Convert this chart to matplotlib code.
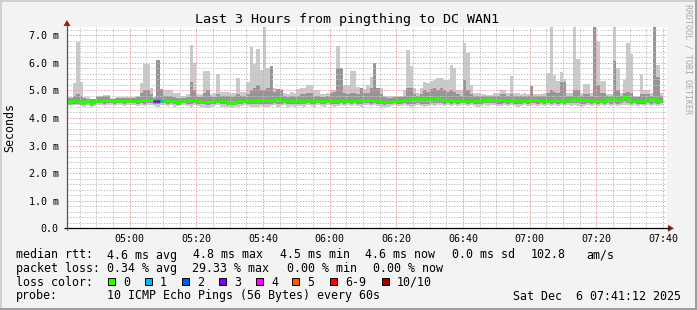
import numpy as np
import matplotlib
matplotlib.use("Agg")
import matplotlib.pyplot as plt
from matplotlib.patches import Rectangle, Polygon

# ---------------- data ----------------
start_label = "04:41"          # first 1-minute bin
view_start = "04:41:12"
view_end = "07:41:12"

rtt_max = [
    4.76, 4.76, 5.28, 6.74, 5.30, 4.76, 4.75, 4.65, 4.70, 4.80,
    4.80, 4.84, 4.84, 4.73, 4.73, 4.76, 4.76, 4.76, 4.76, 4.76,
    4.76, 4.78, 5.28, 5.94, 5.94, 5.09, 4.75, 6.09, 5.05, 5.00,
    5.00, 5.00, 4.90, 4.90, 4.80, 4.80, 4.85, 6.65, 5.99, 4.85,
    4.85, 5.69, 5.69, 4.85, 4.90, 5.60, 4.95, 4.95, 4.95, 4.90,
    4.90, 5.45, 4.95, 4.95, 5.30, 6.56, 5.95, 6.50, 5.74, 7.30,
    5.82, 5.87, 5.09, 5.05, 5.05, 4.90, 4.85, 4.95, 4.90, 5.05,
    5.10, 5.10, 5.20, 5.20, 5.00, 5.00, 4.85, 4.85, 4.90, 5.00,
    5.00, 6.62, 5.82, 5.20, 5.20, 5.70, 5.70, 5.13, 5.10, 5.05,
    5.20, 5.50, 6.00, 5.10, 5.10, 4.80, 4.80, 4.78, 4.80, 4.80,
    4.80, 5.00, 6.47, 5.87, 5.10, 4.90, 5.10, 5.30, 5.28, 5.35,
    5.38, 5.45, 5.45, 5.38, 5.38, 5.90, 5.80, 5.00, 5.00, 6.72,
    6.36, 5.20, 4.90, 4.90, 4.88, 4.85, 4.84, 4.84, 4.90, 4.90,
    5.00, 5.00, 4.90, 5.53, 4.90, 4.90, 4.85, 4.90, 4.85, 5.14,
    4.85, 4.85, 4.85, 4.90, 5.63, 7.30, 5.56, 5.32, 5.65, 5.40,
    4.90, 4.90, 7.30, 6.14, 4.90, 5.24, 5.24, 4.90, 7.30, 6.78,
    5.32, 5.32, 4.85, 4.85, 7.30, 5.82, 4.90, 5.38, 6.72, 6.30,
    4.80, 4.80, 5.60, 5.00, 5.00, 4.90, 7.30, 5.90, 4.90,
]

rtt_upper = [
    4.72, 4.72, 4.80, 4.85, 4.80, 4.72, 4.70, 4.68, 4.70, 4.75,
    4.75, 4.78, 4.78, 4.70, 4.70, 4.72, 4.72, 4.72, 4.72, 4.72,
    4.72, 4.74, 4.90, 5.00, 5.00, 4.85, 4.72, 6.09, 5.05, 4.80,
    4.80, 4.78, 4.75, 4.72, 4.72, 4.72, 4.75, 5.30, 5.00, 4.75,
    4.75, 4.90, 5.00, 4.75, 4.75, 4.85, 4.80, 4.78, 4.78, 4.75,
    4.80, 4.85, 4.80, 4.80, 4.85, 5.00, 5.10, 5.20, 5.00, 5.00,
    5.10, 5.87, 4.95, 5.05, 5.00, 4.80, 4.75, 4.80, 4.78, 4.80,
    4.85, 4.85, 4.90, 4.90, 4.80, 4.80, 4.75, 4.75, 4.78, 4.90,
    4.95, 5.80, 5.82, 4.90, 4.85, 4.90, 4.90, 4.85, 5.09, 4.90,
    4.90, 5.10, 5.99, 5.10, 4.85, 4.75, 4.72, 4.72, 4.75, 4.75,
    4.75, 4.80, 5.10, 5.10, 4.85, 4.78, 4.85, 5.00, 4.95, 5.05,
    5.10, 5.00, 5.10, 5.00, 4.95, 5.00, 4.95, 4.85, 4.80, 5.38,
    5.00, 4.85, 4.80, 4.78, 4.80, 4.80, 4.78, 4.78, 4.80, 4.80,
    4.85, 4.85, 4.80, 4.85, 4.80, 4.80, 4.78, 4.80, 4.78, 5.14,
    4.78, 4.78, 4.78, 4.80, 4.90, 5.00, 4.95, 4.90, 5.30, 5.30,
    4.80, 4.80, 5.00, 5.00, 4.80, 4.85, 4.85, 4.80, 7.30, 5.20,
    4.90, 4.90, 4.78, 4.80, 6.05, 5.00, 4.80, 4.90, 4.95, 4.90,
    4.75, 4.75, 4.85, 4.85, 4.85, 4.80, 7.30, 5.50, 4.80,
]

rtt_lower = [
    4.52, 4.50, 4.52, 4.52, 4.50, 4.50, 4.53, 4.48, 4.52, 4.53,
    4.53, 4.52, 4.53, 4.53, 4.52, 4.53, 4.53, 4.52, 4.53, 4.53,
    4.53, 4.52, 4.53, 4.52, 4.53, 4.53, 4.52, 4.50, 4.53, 4.53,
    4.52, 4.53, 4.50, 4.48, 4.53, 4.53, 4.52, 4.50, 4.53, 4.52,
    4.50, 4.50, 4.48, 4.50, 4.52, 4.53, 4.50, 4.50, 4.48, 4.47,
    4.48, 4.50, 4.52, 4.53, 4.52, 4.50, 4.50, 4.50, 4.52, 4.52,
    4.52, 4.52, 4.53, 4.52, 4.52, 4.53, 4.50, 4.52, 4.50, 4.52,
    4.52, 4.50, 4.53, 4.52, 4.50, 4.53, 4.52, 4.50, 4.53, 4.52,
    4.50, 4.52, 4.53, 4.52, 4.53, 4.52, 4.53, 4.52, 4.52, 4.53,
    4.53, 4.52, 4.53, 4.52, 4.50, 4.48, 4.50, 4.50, 4.53, 4.52,
    4.52, 4.53, 4.52, 4.50, 4.52, 4.53, 4.52, 4.52, 4.52, 4.53,
    4.53, 4.55, 4.53, 4.52, 4.53, 4.52, 4.53, 4.52, 4.53, 4.53,
    4.52, 4.53, 4.52, 4.50, 4.52, 4.53, 4.53, 4.53, 4.53, 4.52,
    4.52, 4.53, 4.50, 4.53, 4.52, 4.50, 4.52, 4.53, 4.52, 4.53,
    4.53, 4.52, 4.53, 4.52, 4.53, 4.52, 4.53, 4.52, 4.53, 4.52,
    4.53, 4.53, 4.53, 4.53, 4.52, 4.52, 4.53, 4.52, 4.53, 4.52,
    4.53, 4.52, 4.53, 4.52, 4.53, 4.52, 4.53, 4.58, 4.53, 4.52,
    4.53, 4.52, 4.52, 4.52, 4.53, 4.52, 4.53, 4.52, 4.53,
]

rtt_min = [
    4.45, 4.42, 4.45, 4.45, 4.42, 4.40, 4.45, 4.38, 4.42, 4.45,
    4.45, 4.42, 4.45, 4.45, 4.42, 4.45, 4.45, 4.42, 4.45, 4.45,
    4.45, 4.42, 4.45, 4.42, 4.45, 4.45, 4.42, 4.40, 4.45, 4.45,
    4.42, 4.45, 4.40, 4.42, 4.45, 4.45, 4.42, 4.40, 4.45, 4.42,
    4.40, 4.38, 4.35, 4.38, 4.42, 4.45, 4.40, 4.38, 4.40, 4.35,
    4.38, 4.40, 4.42, 4.45, 4.42, 4.40, 4.38, 4.40, 4.42, 4.40,
    4.40, 4.42, 4.45, 4.40, 4.42, 4.45, 4.40, 4.42, 4.38, 4.42,
    4.42, 4.40, 4.45, 4.42, 4.40, 4.45, 4.42, 4.40, 4.45, 4.42,
    4.40, 4.42, 4.45, 4.42, 4.45, 4.42, 4.45, 4.42, 4.40, 4.45,
    4.45, 4.42, 4.45, 4.42, 4.40, 4.38, 4.40, 4.42, 4.45, 4.42,
    4.42, 4.45, 4.42, 4.38, 4.42, 4.45, 4.42, 4.40, 4.42, 4.45,
    4.42, 4.45, 4.45, 4.42, 4.45, 4.42, 4.45, 4.42, 4.45, 4.45,
    4.42, 4.45, 4.42, 4.40, 4.42, 4.45, 4.42, 4.45, 4.45, 4.42,
    4.42, 4.45, 4.42, 4.45, 4.42, 4.40, 4.42, 4.45, 4.42, 4.42,
    4.45, 4.42, 4.45, 4.42, 4.45, 4.42, 4.45, 4.42, 4.45, 4.42,
    4.45, 4.42, 4.45, 4.42, 4.40, 4.42, 4.45, 4.42, 4.45, 4.42,
    4.45, 4.42, 4.45, 4.42, 4.45, 4.42, 4.45, 4.48, 4.45, 4.42,
    4.45, 4.42, 4.45, 4.42, 4.45, 4.42, 4.45, 4.42, 4.45,
]

rtt_median = [
    4.53, 4.62, 4.62, 4.62, 4.55, 4.53, 4.65, 4.50, 4.62, 4.62,
    4.62, 4.65, 4.65, 4.65, 4.60, 4.60, 4.60, 4.60, 4.60, 4.60,
    4.60, 4.60, 4.65, 4.65, 4.65, 4.65, 4.60, 4.60, 4.60, 4.60,
    4.62, 4.62, 4.62, 4.53, 4.62, 4.62, 4.65, 4.65, 4.62, 4.62,
    4.58, 4.58, 4.58, 4.58, 4.60, 4.62, 4.62, 4.60, 4.53, 4.53,
    4.55, 4.60, 4.62, 4.62, 4.62, 4.62, 4.60, 4.60, 4.65, 4.65,
    4.65, 4.62, 4.65, 4.70, 4.62, 4.60, 4.62, 4.60, 4.62, 4.60,
    4.60, 4.58, 4.60, 4.62, 4.60, 4.62, 4.62, 4.60, 4.62, 4.62,
    4.62, 4.60, 4.60, 4.62, 4.62, 4.62, 4.60, 4.62, 4.65, 4.65,
    4.65, 4.65, 4.65, 4.62, 4.57, 4.57, 4.57, 4.57, 4.60, 4.60,
    4.62, 4.65, 4.65, 4.68, 4.68, 4.68, 4.68, 4.68, 4.68, 4.68,
    4.70, 4.73, 4.65, 4.65, 4.62, 4.65, 4.62, 4.62, 4.62, 4.62,
    4.62, 4.62, 4.62, 4.60, 4.62, 4.62, 4.70, 4.65, 4.65, 4.65,
    4.65, 4.65, 4.60, 4.60, 4.60, 4.62, 4.62, 4.62, 4.62, 4.65,
    4.65, 4.65, 4.60, 4.60, 4.60, 4.60, 4.65, 4.65, 4.62, 4.62,
    4.62, 4.67, 4.67, 4.67, 4.65, 4.65, 4.65, 4.62, 4.62, 4.62,
    4.62, 4.60, 4.68, 4.68, 4.68, 4.65, 4.65, 4.77, 4.68, 4.62,
    4.62, 4.60, 4.60, 4.60, 4.60, 4.68, 4.68, 4.62, 4.60,
]

# lost pings (out of 10) per minute
loss_count = [0] * 179
loss_count[26] = 3
loss_count[27] = 3
loss_count[28] = 1

loss_labels = ["0", "1", "2", "3", "4", "5", "6-9", "10/10"]
loss_colors = ["#26ff00", "#00b8ff", "#0059ff", "#7e00ff", "#ff00ff",
               "#ff5500", "#ff0000", "#a10000"]

y_ticks = [0, 1, 2, 3, 4, 5, 6, 7]
y_labels = ["0.0", "1.0 m", "2.0 m", "3.0 m", "4.0 m", "5.0 m", "6.0 m", "7.0 m"]
x_labels = ["05:00", "05:20", "05:40", "06:00", "06:20", "06:40", "07:00", "07:20", "07:40"]

title = "Last 3 Hours from pingthing to DC WAN1"
stats_rtt = [("median rtt:", 16), ("4.6 ms avg", 107), ("4.8 ms max", 193),
             ("4.5 ms min", 280), ("4.6 ms now", 365), ("0.0 ms sd", 452),
             ("102.8", 531), ("am/s", 586)]
stats_loss = [("packet loss:", 16), ("0.34 % avg", 107), ("29.33 % max", 192),
              ("0.00 % min", 287), ("0.00 % now", 373)]
probe_text = "10 ICMP Echo Pings (56 Bytes) every 60s"
date_text = "Sat Dec  6 07:41:12 2025"

# ---------------- helpers ----------------
def to_min(s):
    parts = [float(p) for p in s.split(":")]
    m = parts[0] * 60 + parts[1]
    if len(parts) > 2:
        m += parts[2] / 60
    return m

W, H = 697, 310
MONO = "DejaVu Sans Mono"
plt.rcParams["font.family"] = [MONO]

fig = plt.figure(figsize=(W / 100, H / 100), dpi=100)
fig.patch.set_facecolor("#f3f3f3")

x0_px, x1_px, ybot_px, ytop_px = 67, 667, 228.3, 27.3
ax = fig.add_axes([x0_px / W, 1 - ybot_px / H, (x1_px - x0_px) / W, (ybot_px - ytop_px) / H])
ax.set_facecolor("white")

n = len(rtt_median)
edges = to_min(start_label) + np.arange(n + 1)

def ext(a):
    a = np.asarray(a, dtype=float)
    return np.r_[a, a[-1]]

ax.fill_between(edges, ext(rtt_min), ext(rtt_max), step="post", color="#cacaca", lw=0, zorder=1)
ax.fill_between(edges, ext(rtt_lower), ext(rtt_upper), step="post", color="#959595", lw=0, zorder=1.1)

# median line (step), coloured by loss
med = np.asarray(rtt_median)
xs = np.repeat(edges, 2)[1:-1]
ys = np.repeat(med, 2)
ax.plot(xs, ys, color=loss_colors[0], lw=1.8, zorder=3, solid_capstyle="butt")
for i, lc in enumerate(loss_count):
    if lc > 0:
        idx = 6 if 6 <= lc <= 9 else (7 if lc >= 10 else lc)
        ax.hlines(med[i], edges[i], edges[i + 1], color=loss_colors[idx], lw=1.8, zorder=3.1)

xmin, xmax = to_min(view_start), to_min(view_end)
ax.set_xlim(xmin, xmax)
ax.set_ylim(0, (ybot_px - ytop_px) / 27.6)

xt = [to_min(s) for s in x_labels]
ax.set_xticks(xt)
ax.set_xticklabels(x_labels)
ax.set_xticks(np.arange(np.ceil(xmin / 5) * 5, xmax, 5), minor=True)
ax.set_yticks(y_ticks)
ax.set_yticklabels(y_labels)
ax.set_yticks(np.arange(0, 7.3, 0.2), minor=True)

ax.set_axisbelow(False)
dot = (0, (1.4, 1.4))
ax.grid(which="minor", color="#c4c4c4", lw=0.72, ls=dot)
ax.grid(which="major", color="#f29a9a", lw=0.72, ls=dot)
ax.tick_params(which="both", length=0)
ax.tick_params(axis="y", labelsize=7.2, pad=6)
ax.tick_params(axis="x", labelsize=7.2, pad=4)
for s in ax.spines.values():
    s.set_visible(False)

# ---------------- overlay (frame, axes arrows, texts) ----------------
ov = fig.add_axes([0, 0, 1, 1])
ov.set_xlim(0, W)
ov.set_ylim(H, 0)
ov.axis("off")
ov.patch.set_alpha(0)

# 3D frame
ov.add_patch(Rectangle((0, 0), W, 2, color="#d0d0d0", lw=0))
ov.add_patch(Rectangle((0, 0), 2, H, color="#d0d0d0", lw=0))
ov.add_patch(Rectangle((0, H - 2.5), W, 2.5, color="#9e9e9e", lw=0))
ov.add_patch(Rectangle((W - 2.5, 0), 2.5, H, color="#9e9e9e", lw=0))

# axis lines + arrows
ov.plot([64, 669], [ybot_px, ybot_px], color="black", lw=0.9, solid_capstyle="butt")
ov.plot([67, 67], [ybot_px + 2, 25], color="#555555", lw=0.9, solid_capstyle="butt")
arrow_c = "#9b1c1c"
ov.add_patch(Polygon([[668, ybot_px - 3.5], [668, ybot_px + 3.5], [674, ybot_px]], closed=True, color=arrow_c, lw=0))
ov.add_patch(Polygon([[63.5, 26], [70.5, 26], [67, 20]], closed=True, color=arrow_c, lw=0))

ov.text(347, 19, title, ha="center", va="center", fontsize=9.6, family=MONO, color="black")
ov.text(10, 127, "Seconds", ha="center", va="center", rotation=90, fontsize=8.4, family=MONO)
ov.text(688, 59, "RRDTOOL / TOBI OETIKER", ha="center", va="center", rotation=-90,
        fontsize=6.0, family=MONO, color="#a8a8a8")

fs = 8.4
rows_y = [255, 268.5, 282, 296]
for txt, x in stats_rtt:
    ov.text(x, rows_y[0], txt, ha="left", va="center", fontsize=fs, family=MONO)
for txt, x in stats_loss:
    ov.text(x, rows_y[1], txt, ha="left", va="center", fontsize=fs, family=MONO)

ov.text(16, rows_y[2], "loss color:", ha="left", va="center", fontsize=fs, family=MONO)
box_x = [108, 145, 182, 219, 256, 292, 330, 382]
for bx, lab, col in zip(box_x, loss_labels, loss_colors):
    ov.add_patch(Rectangle((bx, rows_y[2] - 3.8), 7.2, 7.2, facecolor=col, edgecolor="black", lw=0.7))
    ov.text(bx + 15, rows_y[2], lab, ha="left", va="center", fontsize=fs, family=MONO)

ov.text(16, rows_y[3], "probe:", ha="left", va="center", fontsize=fs, family=MONO)
ov.text(107, rows_y[3], probe_text, ha="left", va="center", fontsize=fs, family=MONO)
ov.text(681, rows_y[3], date_text, ha="right", va="center", fontsize=fs, family=MONO)

fig.savefig("out.png", dpi=100, facecolor=fig.get_facecolor())
